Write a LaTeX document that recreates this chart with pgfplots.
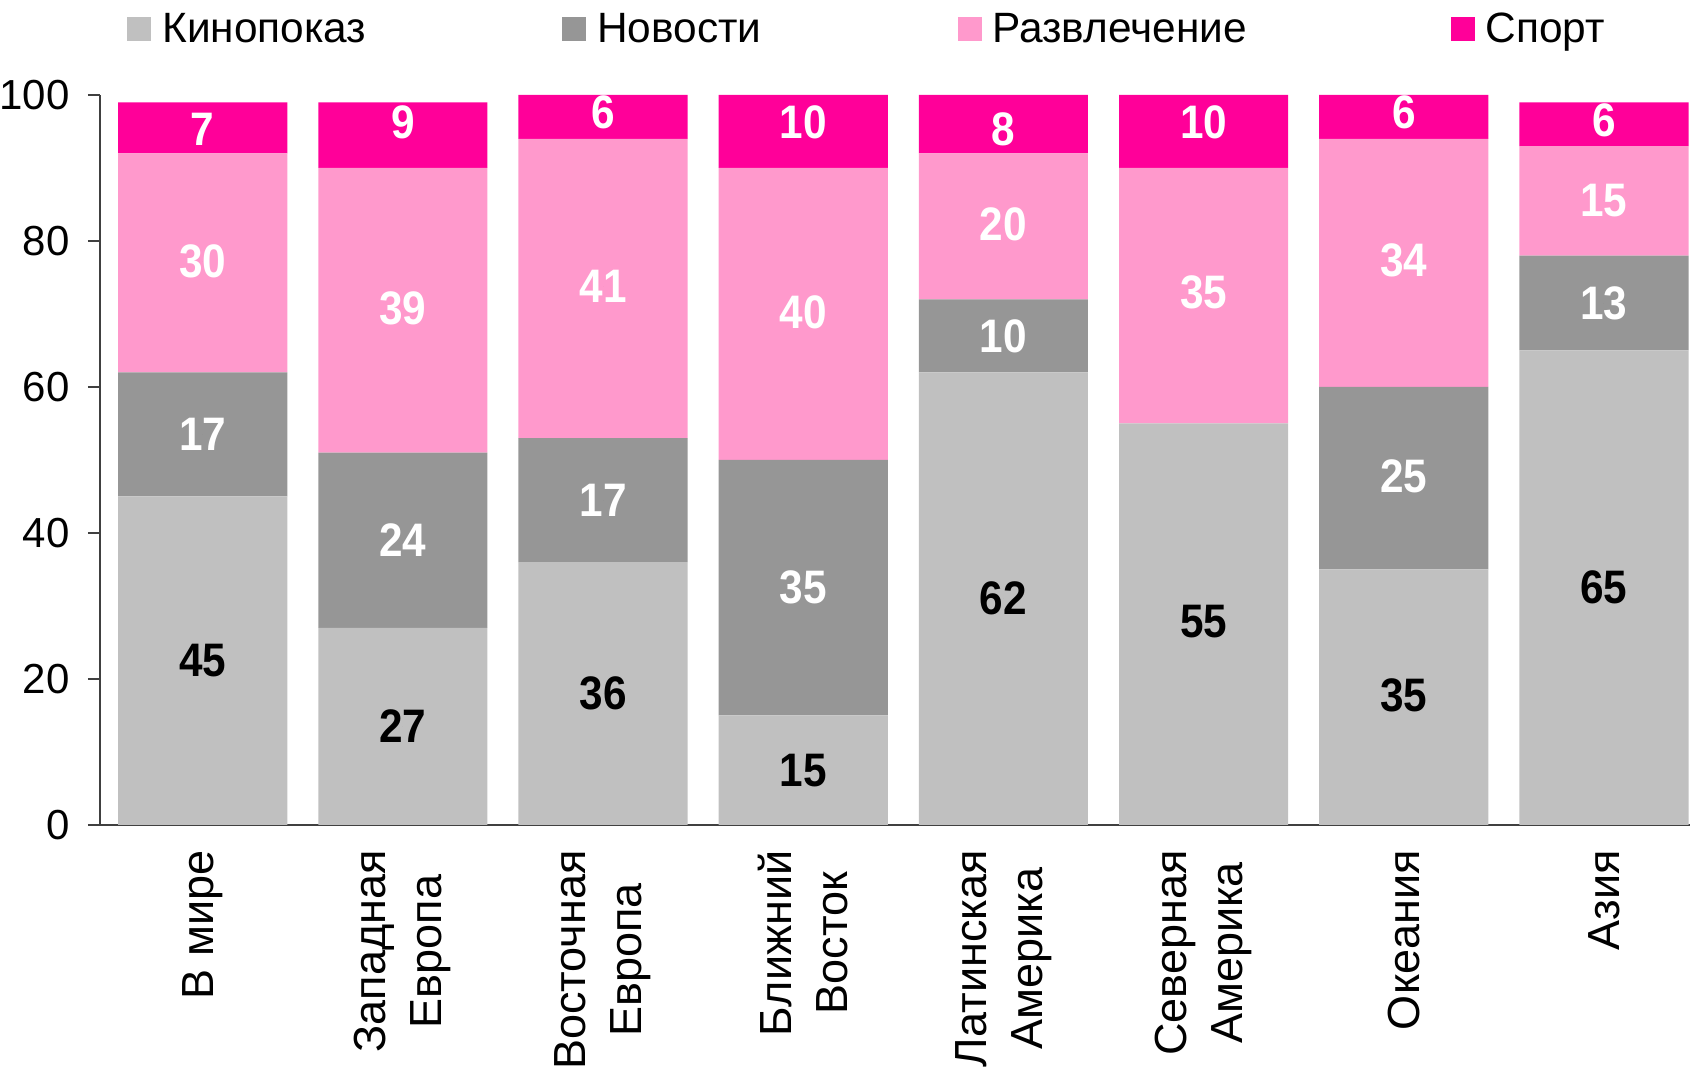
\documentclass[border=0pt]{standalone}
\usepackage{fontspec}
\setmainfont{Liberation Sans}
\newfontfamily\barfont[FakeStretch=0.9]{Liberation Sans}
\usepackage{pgfplots}
\usepackage{pgfplotstable}
\pgfplotsset{compat=1.18}
\usetikzlibrary{calc}

\definecolor{kino}{HTML}{C0C0C0}
\definecolor{news}{HTML}{969696}
\definecolor{fun}{HTML}{FF99CC}
\definecolor{sport}{HTML}{FF0099}
\definecolor{axisgray}{HTML}{404040}

\pgfplotstableread{
x kino news fun sport
0 45 17 30 7
1 27 24 39 9
2 36 17 41 6
3 15 35 40 10
4 62 10 20 8
5 55 0 35 10
6 35 25 34 6
7 65 13 15 6
}\data

\pgfplotstableread{
x y lab
0 22.5 45
1 13.5 27
2 18 36
3 7.5 15
4 31 62
5 27.8 55
6 17.7 35
7 32.5 65
}\darklabels

\pgfplotstableread{
x y lab
0 53.5 17
0 77.2 30
0 95.3 7
1 39 24
1 70.8 39
1 96.3 9
2 44.5 17
2 73.8 41
2 97.6 6
3 32.5 35
3 70.2 40
3 96.3 10
4 67 10
4 82.3 20
4 95.3 8
5 72.9 35
5 96.3 10
6 47.7 25
6 77.4 34
6 97.6 6
7 71.5 13
7 85.6 15
7 96.5 6
}\whitelabels

\pgfplotsset{common/.style={scale only axis, width=795pt, height=365pt,
  xmin=-0.513, xmax=7.43, ymin=0, ymax=100}}

\begin{document}
\begin{tikzpicture}
\begin{axis}[common, name=ax,
  ybar stacked, bar width=0.845,
  axis x line*=bottom, axis y line*=left,
  x axis line style={-}, y axis line style={-},
  axis line style={draw=axisgray, line width=1pt},
  xtick={0,...,7},
  xticklabels={В мире,{Западная\\Европа},{Восточная\\Европа},{Ближний\\Восток},{Латинская\\Америка},{Северная\\Америка},Океания,Азия},
  x tick style={draw=none},
  ytick={0,20,...,100},
  tick align=outside,
  y tick style={draw=axisgray, line width=1pt},
  major tick length=6pt,
  /pgf/number format/assume math mode=true,
  yticklabel style={font=\fontsize{21}{25}\selectfont, inner sep=0pt, xshift=-9pt},
  xticklabel shift=6.5pt,
  xticklabel style={font=\fontsize{22.5}{28}\selectfont, rotate=90, anchor=east, align=center, inner sep=0pt},
  legend image code/.code={\fill[#1] (0pt,-6pt) rectangle (12pt,6pt); \path (15.5pt,0pt);},
  legend columns=4,
  legend style={at={(axis description cs:0.017,1.09)}, anchor=west, draw=none, fill=none,
    inner sep=0pt, font=\fontsize{21.2}{25}\selectfont,
    /tikz/every even column/.append style={column sep=96pt}},
]
\addplot[fill=kino, draw=none] table[x=x, y=kino] {\data};
\addlegendentry{Кинопоказ}
\addplot[fill=news, draw=none] table[x=x, y=news] {\data};
\addlegendentry{Новости}
\addplot[fill=fun, draw=none] table[x=x, y=fun] {\data};
\addlegendentry{Развлечение\rule{4pt}{0pt}}
\addplot[fill=sport, draw=none] table[x=x, y=sport] {\data};
\addlegendentry{Спорт}
\end{axis}
\begin{axis}[common, hide axis]
\addplot[only marks, mark=*, mark size=0pt, nodes near coords, point meta=explicit symbolic,
  nodes near coords align=center,
  every node near coord/.append style={anchor=center, text=black, font=\barfont\bfseries\fontsize{23.5}{23.5}\selectfont}]
  table[x=x, y=y, meta=lab] {\darklabels};
\addplot[only marks, mark=*, mark size=0pt, nodes near coords, point meta=explicit symbolic,
  nodes near coords align=center,
  every node near coord/.append style={anchor=center, text=white, font=\barfont\bfseries\fontsize{23.5}{23.5}\selectfont}]
  table[x=x, y=y, meta=lab] {\whitelabels};
\end{axis}
\pgfresetboundingbox
\path[use as bounding box] ($(ax.south west)+(-50pt,-122pt)$) rectangle ++(845pt,534.5pt);
\end{tikzpicture}
\end{document}
